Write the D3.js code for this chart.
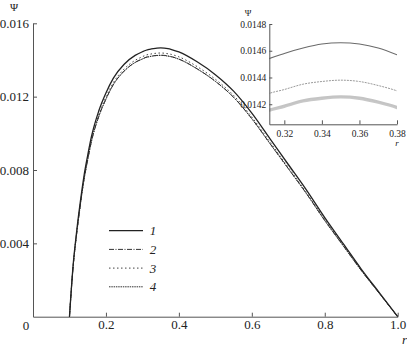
<!DOCTYPE html>
<html>
<head>
<meta charset="utf-8">
<script src="https://cdn.jsdelivr.net/npm/d3@7"></script>
<style>
  body { margin: 0; background: #fff; }
  svg { display: block; }
  svg text { font-family: 'Liberation Serif' !important; }
</style>
</head>
<body>
<script>
// radial coordinate r
const rValues = [0.10, 0.11, 0.12, 0.13, 0.14, 0.15, 0.16, 0.18, 0.20, 0.22, 0.25, 0.28, 0.30,
    0.31, 0.32, 0.33, 0.34, 0.35, 0.36, 0.37, 0.38, 0.40, 0.45, 0.50, 0.55, 0.60, 0.65, 0.70,
    0.75, 0.80, 0.85, 0.90, 0.95, 1.00];

// stream function Psi for the four cases
const psi1 = [0, 0.0028, 0.0047, 0.0063, 0.0077, 0.0088, 0.0098, 0.0112, 0.0122, 0.0130, 0.01377, 0.01425, 0.01445,
    0.01453, 0.01458, 0.01462, 0.01465, 0.01466, 0.01465, 0.01462, 0.01457, 0.01444, 0.0139, 0.0132, 0.0123, 0.0111, 0.0097, 0.0083,
    0.0069, 0.0054, 0.0040, 0.0026, 0.0013, 0];
const psi2 = [0, 0.00272, 0.00457, 0.00613, 0.00749, 0.00856, 0.00954, 0.01090, 0.01187, 0.01265, 0.01340, 0.01387, 0.01406,
    0.01415, 0.01419, 0.01423, 0.01425, 0.01426, 0.01425, 0.01422, 0.01418, 0.01405, 0.01352, 0.01284, 0.01197, 0.01080, 0.00944, 0.00808,
    0.00671, 0.00525, 0.00389, 0.00253, 0.00126, 0];
const psi3 = [0, 0.00275, 0.00461, 0.00618, 0.00755, 0.00863, 0.00961, 0.01099, 0.01197, 0.01275, 0.01351, 0.01398, 0.01418,
    0.01427, 0.01431, 0.01435, 0.01437, 0.01438, 0.01437, 0.01434, 0.01430, 0.01417, 0.01364, 0.01295, 0.01207, 0.01089, 0.00952, 0.00814,
    0.00677, 0.00530, 0.00392, 0.00255, 0.00128, 0];
const psi4 = [0, 0.00272, 0.00457, 0.00612, 0.00748, 0.00855, 0.00953, 0.01089, 0.01186, 0.01264, 0.01339, 0.01386, 0.01405,
    0.01414, 0.01418, 0.01422, 0.01424, 0.01425, 0.01424, 0.01421, 0.01417, 0.01404, 0.01351, 0.01283, 0.01196, 0.01079, 0.00943, 0.00807,
    0.00670, 0.00524, 0.00388, 0.00252, 0.00126, 0];

const seriesLabels = ["1", "2", "3", "4"];
const xTicks = [0.2, 0.4, 0.6, 0.8, 1.0];
const yTicks = [0.004, 0.008, 0.012, 0.016];
const insetXTicks = [0.32, 0.34, 0.36, 0.38];
const insetYTicks = [0.0142, 0.0144, 0.0146, 0.0148];

const W = 407, H = 348;
const FONT = "'Liberation Serif'";
const series = [psi1, psi2, psi3, psi4].map((vals, i) => ({
    label: seriesLabels[i],
    points: rValues.map((r, j) => [r, vals[j]])
}));

// line looks in main plot and in the zoomed inset
const mainStyle = [
    { stroke: "#222", width: 1.3, dash: null },
    { stroke: "#333", width: 1, dash: "5,1.5,1,1.5" },
    { stroke: "#444", width: 1, dash: "1.5,2.5" },
    { stroke: "#333", width: 1, dash: "1.5,0.8" }
];
const insetStyle = [
    { stroke: "#6a6a6a", width: 1.1, dash: null },
    { stroke: "#c4c4c4", width: 2, dash: null },
    { stroke: "#9a9a9a", width: 1, dash: "2,1" },
    { stroke: "#c8c8c8", width: 2, dash: null }
];

const svg = d3.select("body").append("svg")
    .attr("width", W).attr("height", H);

// helper for free-standing labels
function label(parent, tx, ty, str, size, italic) {
    return parent.append("text")
        .style("font-family", FONT)
        .style("font-size", size + "px")
        .style("font-style", italic ? "italic" : "normal")
        .attr("x", tx).attr("y", ty)
        .attr("text-anchor", "middle")
        .attr("fill", "#222")
        .text(str);
}

// main scales
const x = d3.scaleLinear().domain([0, 1]).range([33, 397.7]);
const y = d3.scaleLinear().domain([0, 0.016]).range([316.7, 23.3]);

const xAxis = svg.append("g")
    .attr("transform", `translate(0,${y(0)})`)
    .call(d3.axisBottom(x).tickValues(xTicks).tickFormat(d3.format(".1f"))
        .tickSizeInner(-4).tickSizeOuter(0).tickPadding(0))
    .attr("font-family", FONT).attr("font-size", 13);
xAxis.selectAll("text").attr("y", 12.5).attr("dy", 0);

const yAxis = svg.append("g")
    .attr("transform", `translate(${x(0)},0)`)
    .call(d3.axisLeft(y).tickValues(yTicks).tickFormat(d3.format(".3f"))
        .tickSizeInner(-4).tickSizeOuter(0).tickPadding(4))
    .attr("font-family", FONT).attr("font-size", 13);

svg.selectAll(".domain, .tick line").attr("stroke", "#555").attr("stroke-width", 1);
svg.selectAll(".tick text").attr("fill", "#222");

label(svg, 26, 329.5, "0", 13, false);
label(svg, 404.5, 344, "r", 13, true);
label(svg, 14, 11, "Ψ", 11, false);

const line = d3.line().x(d => x(d[0])).y(d => y(d[1])).curve(d3.curveMonotoneX);

// draw lower curves first, solid curve on top
[3, 2, 1, 0].forEach(i => {
    const s = mainStyle[i];
    svg.append("path")
        .datum(series[i].points)
        .attr("fill", "none")
        .attr("stroke", s.stroke)
        .attr("stroke-width", s.width)
        .attr("stroke-dasharray", s.dash)
        .attr("d", line);
});

// legend
const legend = svg.append("g");
series.forEach((s, i) => {
    const ly = 230.7 + i * 18.7;
    const st = mainStyle[i];
    legend.append("line")
        .attr("x1", 109).attr("x2", 143).attr("y1", ly).attr("y2", ly)
        .attr("stroke", st.stroke).attr("stroke-width", st.width)
        .attr("stroke-dasharray", st.dash);
    label(legend, 153, ly + 4.5, s.label, 13, true);
});

// inset: zoom on the maximum
const xi = d3.scaleLinear().domain([0.312, 0.38]).range([269.3, 397]);
const yi = d3.scaleLinear().domain([0.01405, 0.0148]).range([124.3, 24]);

const inset = svg.append("g");
inset.append("clipPath").attr("id", "insetClip")
    .append("rect")
    .attr("x", xi.range()[0]).attr("y", yi.range()[1])
    .attr("width", xi.range()[1] - xi.range()[0])
    .attr("height", yi.range()[0] - yi.range()[1]);

const lineInset = d3.line().x(d => xi(d[0])).y(d => yi(d[1])).curve(d3.curveMonotoneX);
[3, 1, 2, 0].forEach(i => {
    const s = insetStyle[i];
    inset.append("path")
        .datum(series[i].points)
        .attr("clip-path", "url(#insetClip)")
        .attr("fill", "none")
        .attr("stroke", s.stroke)
        .attr("stroke-width", s.width)
        .attr("stroke-dasharray", s.dash)
        .attr("d", lineInset);
});

const ixAxis = inset.append("g")
    .attr("transform", `translate(0,${yi.range()[0]})`)
    .call(d3.axisBottom(xi).tickValues(insetXTicks).tickFormat(d3.format(".2f"))
        .tickSizeInner(-4).tickSizeOuter(0).tickPadding(0))
    .attr("font-family", FONT).attr("font-size", 9.5);
ixAxis.selectAll("text").attr("y", 13).attr("dy", 0);

const iyAxis = inset.append("g")
    .attr("transform", `translate(${xi.range()[0]},0)`)
    .call(d3.axisLeft(yi).tickValues(insetYTicks).tickFormat(d3.format(".4f"))
        .tickSizeInner(-3).tickSizeOuter(0).tickPadding(3))
    .attr("font-family", FONT).attr("font-size", 9.5);

inset.selectAll(".domain, .tick line").attr("stroke", "#555").attr("stroke-width", 1);
inset.selectAll(".tick text").attr("fill", "#222");

label(inset, 248, 16, "Ψ", 9, false);
label(inset, 397, 146, "r", 9, true);
</script>
</body>
</html>
